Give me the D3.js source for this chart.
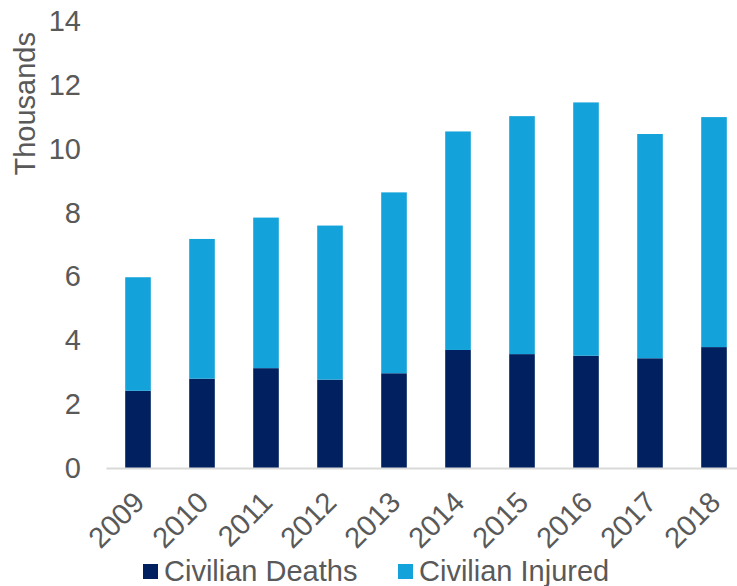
<!DOCTYPE html>
<html>
<head>
<meta charset="utf-8">
<script src="https://cdn.jsdelivr.net/npm/d3@7/dist/d3.min.js"></script>
<style>
  html, body { margin: 0; padding: 0; background: #fff; }
  svg { display: block; font-family: "Liberation Sans", Arial, sans-serif; }
</style>
</head>
<body>
<svg id="chart" width="737" height="586"></svg>
<script>
const years = ["2009","2010","2011","2012","2013","2014","2015","2016","2017","2018"];
const deaths = [2.42, 2.80, 3.13, 2.77, 2.97, 3.70, 3.57, 3.52, 3.44, 3.79];
const injured = [3.56, 4.38, 4.72, 4.83, 5.67, 6.85, 7.46, 7.94, 7.03, 7.21];
const yTicks = [0, 2, 4, 6, 8, 10, 12, 14];
const seriesNames = ["Civilian Deaths", "Civilian Injured"];
const seriesColors = ["#002060", "#13A2D9"];

const svg = d3.select("#chart");
const textColor = "#595959";
const fs = 29;

const x = d3.scaleBand().domain(years).range([106, 746]).paddingInner(0.6).paddingOuter(0.3);
const y = d3.scaleLinear().domain([0, 14]).range([468, 21.4]);

const rows = years.map((yr, i) => ({ year: yr, deaths: deaths[i], injured: injured[i] }));
const stack = d3.stack().keys(["deaths", "injured"]);
const stacked = stack(rows);

const g = svg.append("g");
g.selectAll("g.series")
  .data(stacked)
  .join("g")
  .attr("class", "series")
  .attr("fill", (d, i) => seriesColors[i])
  .selectAll("rect")
  .data(d => d)
  .join("rect")
  .attr("x", d => x(d.data.year))
  .attr("width", x.bandwidth())
  .attr("y", d => y(d[1]))
  .attr("height", d => y(d[0]) - y(d[1]));

// x axis line
const xAxis = svg.append("g").attr("transform", "translate(0,468)")
  .call(d3.axisBottom(x).tickSize(0).tickPadding(0));
xAxis.select(".domain").attr("stroke", "#D9D9D9").attr("stroke-width", 2);
xAxis.selectAll(".tick text")
  .attr("fill", textColor)
  .attr("font-size", fs)
  .attr("text-anchor", "end")
  .attr("transform", "translate(1,29) rotate(-45)")
  .attr("y", 0)
  .attr("x", 0)
  .attr("dy", "0.35em");

// y axis labels
const yAxis = svg.append("g").attr("transform", "translate(81,0)")
  .call(d3.axisLeft(y).tickValues(yTicks).tickSize(0).tickPadding(0).tickFormat(d3.format("d")));
yAxis.select(".domain").remove();
yAxis.selectAll(".tick text")
  .attr("fill", textColor)
  .attr("font-size", fs);

// y title
svg.append("text")
  .attr("transform", "translate(35,32) rotate(-90)")
  .attr("text-anchor", "end")
  .attr("fill", textColor)
  .attr("font-size", fs)
  .text("Thousands");

// legend
const legendX = [143, 398];
const legend = svg.append("g");
seriesNames.forEach((name, i) => {
  legend.append("rect")
    .attr("x", legendX[i]).attr("y", 564)
    .attr("width", 15).attr("height", 15)
    .attr("fill", seriesColors[i]);
  legend.append("text")
    .attr("x", legendX[i] + 21).attr("y", 581)
    .attr("fill", textColor)
    .attr("font-size", fs)
    .text(name);
});
</script>
</body>
</html>
